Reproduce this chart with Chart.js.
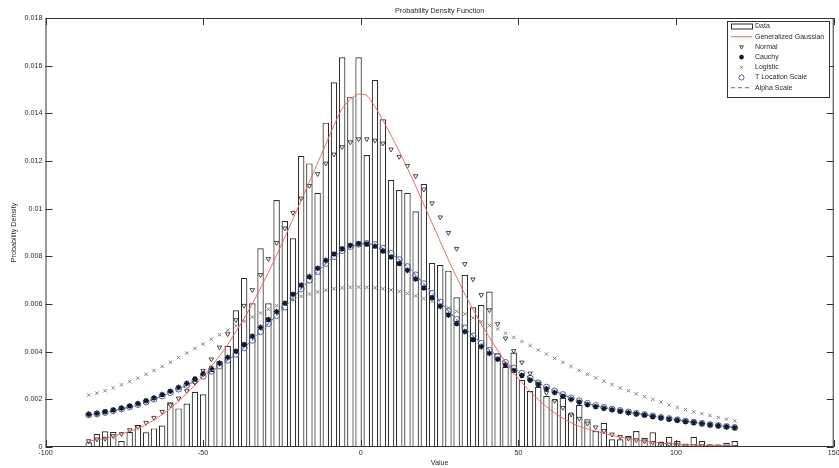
<!DOCTYPE html>
<html>
<head>
<meta charset="utf-8">
<title>Probability Density Function</title>
<script src="https://cdn.jsdelivr.net/npm/chart.js"></script>
<style>
  html, body { margin: 0; padding: 0; background: #fff; overflow: hidden; }
  #wrap { position: relative; width: 839px; height: 468px; }
</style>
</head>
<body>
<div id="wrap"><canvas id="pdfChart"></canvas></div>
<script>
// bin centres of the histogram (Value axis)
const binCenters = [
  -86.3, -83.7, -81.1, -78.5, -75.9, -73.3, -70.7, -68.1, -65.6, -63.0,
  -60.4, -57.8, -55.2, -52.6, -50.0, -47.4, -44.8, -42.2, -39.6, -37.0,
  -34.4, -31.8, -29.3, -26.7, -24.1, -21.5, -18.9, -16.3, -13.7, -11.1,
  -8.5, -5.9, -3.3, -0.7, 1.9, 4.5, 7.0, 9.6, 12.2, 14.8,
  17.4, 20.0, 22.6, 25.2, 27.8, 30.4, 33.0, 35.6, 38.2, 40.8,
  43.4, 45.9, 48.5, 51.1, 53.7, 56.3, 58.9, 61.5, 64.1, 66.7,
  69.3, 71.9, 74.5, 77.1, 79.7, 82.3, 84.9, 87.4, 90.0, 92.6,
  95.2, 97.8, 100.4, 103.0, 105.6, 108.2, 110.8, 113.4, 116.0, 118.6
];

// histogram (Data)
const dataDensity = [
  0.0002, 0.00055, 0.00066, 0.00063, 0.00025, 0.00063, 0.00092, 0.00062, 0.00078, 0.0009,
  0.00188, 0.00162, 0.00182, 0.00232, 0.00221, 0.0032, 0.0036, 0.00425, 0.00574, 0.0071,
  0.00603, 0.00834, 0.00603, 0.01036, 0.00948, 0.00876, 0.01221, 0.0119, 0.01067, 0.01361,
  0.0153, 0.01635, 0.0147, 0.01635, 0.01225, 0.0154, 0.01375, 0.0112, 0.01078, 0.01067,
  0.00989, 0.01104, 0.00773, 0.00764, 0.0074, 0.00628, 0.00722, 0.00586, 0.00596, 0.00652,
  0.00393, 0.00337, 0.00396, 0.00281, 0.00235, 0.00253, 0.00214, 0.002, 0.00208, 0.00141,
  0.00176, 0.00116, 0.00067, 0.00102, 0.00032, 0.00032, 0.00046, 0.00067, 0.00039, 0.00062,
  0.00022, 0.00043, 0.00025, 0.00011, 0.00043, 0.00025, 0.00011, 0.00011, 0.00018, 0.00025
];

// fitted curves
const genGaussian = [
  0.00025, 0.0003, 0.00036, 0.00045, 0.00055, 0.00066, 0.00078, 0.00094, 0.00113, 0.00136,
  0.00162, 0.00192, 0.00225, 0.0026, 0.00298, 0.00338, 0.00382, 0.0043, 0.00484, 0.0054,
  0.00601, 0.00667, 0.00733, 0.00805, 0.0088, 0.00957, 0.01035, 0.01113, 0.01191, 0.0127,
  0.0135, 0.0142, 0.0146, 0.01481, 0.01475, 0.01428, 0.01371, 0.01308, 0.0124, 0.0117,
  0.01095, 0.01018, 0.0094, 0.00862, 0.00785, 0.00712, 0.00642, 0.00577, 0.00516, 0.0046,
  0.00406, 0.00356, 0.00311, 0.0027, 0.00232, 0.00199, 0.00169, 0.00143, 0.00121, 0.00102,
  0.00087, 0.00076, 0.00066, 0.00057, 0.00049, 0.00042, 0.00035, 0.00029, 0.00024, 0.0002,
  0.00016, 0.00014, 0.00012, 0.0001, 0.00009, 0.00008, 0.00007, 0.00006, 0.00005, 0.00005
];

const normalFit = [
  0.00025, 0.00032, 0.00035, 0.00046, 0.00055, 0.00071, 0.00085, 0.00102, 0.00123, 0.00148,
  0.00176, 0.00204, 0.00235, 0.0027, 0.0032, 0.00368, 0.00418, 0.00474, 0.00533, 0.00593,
  0.00659, 0.00722, 0.00789, 0.00857, 0.00918, 0.00983, 0.01043, 0.01096, 0.01146, 0.0119,
  0.01228, 0.01259, 0.01279, 0.01292, 0.01292, 0.01286, 0.01274, 0.01249, 0.01218, 0.0118,
  0.01137, 0.01081, 0.01023, 0.00964, 0.00899, 0.00832, 0.00768, 0.00704, 0.00638, 0.00575,
  0.00516, 0.00456, 0.00403, 0.00355, 0.00309, 0.00267, 0.00228, 0.00194, 0.00165, 0.00137,
  0.00119, 0.00099, 0.00083, 0.00068, 0.00053, 0.00043, 0.00036, 0.00029, 0.00024, 0.00018,
  0.00014, 0.00011, 0.00008, 0.00006, 0.00005, 0.00004, 0.00003, 0.00002, 0.00002, 0.00001
];

const cauchyFit = [
  0.00137, 0.00141, 0.00148, 0.00155, 0.00163, 0.00172, 0.00182, 0.00194, 0.00206, 0.0022,
  0.00234, 0.0025, 0.00267, 0.00286, 0.00308, 0.0033, 0.00352, 0.00376, 0.00402, 0.0043,
  0.00465, 0.00502, 0.00535, 0.00568, 0.00603, 0.00641, 0.00679, 0.00715, 0.0075, 0.00783,
  0.0081, 0.00832, 0.00846, 0.00853, 0.00852, 0.00842, 0.00822, 0.00797, 0.0077, 0.00741,
  0.00705, 0.00667, 0.00626, 0.0059, 0.00554, 0.00518, 0.00484, 0.00451, 0.00421, 0.00393,
  0.00368, 0.00344, 0.00321, 0.003, 0.0028, 0.00261, 0.00244, 0.00228, 0.00213, 0.002,
  0.00188, 0.00178, 0.00169, 0.00162, 0.00156, 0.0015, 0.00144, 0.00139, 0.00134, 0.00128,
  0.00122, 0.00117, 0.00112, 0.00107, 0.00103, 0.00098, 0.00093, 0.00089, 0.00085, 0.00081
];

const logisticFit = [
  0.00218, 0.00226, 0.00236, 0.00248, 0.00261, 0.00274, 0.00289, 0.00305, 0.00321, 0.00338,
  0.00356, 0.00375, 0.00394, 0.00413, 0.00432, 0.00452, 0.00471, 0.0049, 0.00509, 0.00527,
  0.00545, 0.00562, 0.00578, 0.00593, 0.00607, 0.0062, 0.00632, 0.00642, 0.00651, 0.00658,
  0.00664, 0.00668, 0.0067, 0.00671, 0.0067, 0.00668, 0.00664, 0.00659, 0.00652, 0.00644,
  0.00634, 0.00623, 0.00611, 0.00598, 0.00584, 0.00569, 0.00558, 0.00542, 0.00526, 0.0051,
  0.00495, 0.00477, 0.0046, 0.00443, 0.00425, 0.00407, 0.0039, 0.00372, 0.00355, 0.00338,
  0.00321, 0.00305, 0.0029, 0.00276, 0.00262, 0.00248, 0.00236, 0.00223, 0.00211, 0.002,
  0.00189, 0.00176, 0.00166, 0.00157, 0.00148, 0.0014, 0.00132, 0.00124, 0.00117, 0.0011
];

const tLocationFit = [
  0.00135, 0.00139, 0.00145, 0.00152, 0.0016, 0.00168, 0.00178, 0.00189, 0.00201, 0.00214,
  0.00228, 0.00243, 0.00259, 0.00277, 0.00297, 0.00318, 0.0034, 0.00364, 0.00389, 0.00416,
  0.00448, 0.00484, 0.00518, 0.00552, 0.00587, 0.00625, 0.00663, 0.007, 0.00736, 0.0077,
  0.00799, 0.00824, 0.00841, 0.00851, 0.00854, 0.00849, 0.00834, 0.00812, 0.00786, 0.00757,
  0.00722, 0.00685, 0.00645, 0.00608, 0.00571, 0.00535, 0.005, 0.00466, 0.00435, 0.00406,
  0.0038, 0.00355, 0.00331, 0.00309, 0.00289, 0.00269, 0.00251, 0.00235, 0.0022, 0.00206,
  0.00194, 0.00183, 0.00174, 0.00166, 0.00159, 0.00153, 0.00147, 0.00141, 0.00136, 0.0013,
  0.00124, 0.00119, 0.00114, 0.00109, 0.00104, 0.00099, 0.00094, 0.0009, 0.00086, 0.00082
];

const alphaFit = [
  0.00135, 0.00139, 0.00145, 0.00152, 0.0016, 0.00168, 0.00178, 0.00189, 0.00201, 0.00214,
  0.00228, 0.00243, 0.00259, 0.00277, 0.00297, 0.00318, 0.0034, 0.00364, 0.00389, 0.00417,
  0.00449, 0.00484, 0.00518, 0.00552, 0.00588, 0.00626, 0.00664, 0.00701, 0.00737, 0.0077,
  0.00799, 0.00823, 0.0084, 0.0085, 0.00853, 0.00848, 0.00834, 0.00812, 0.00786, 0.00757,
  0.00722, 0.00685, 0.00646, 0.00608, 0.00571, 0.00535, 0.005, 0.00467, 0.00436, 0.00407,
  0.0038, 0.00355, 0.00331, 0.00309, 0.00289, 0.00269, 0.00251, 0.00235, 0.0022, 0.00206,
  0.00194, 0.00183, 0.00174, 0.00166, 0.00159, 0.00153, 0.00147, 0.00141, 0.00136, 0.0013,
  0.00124, 0.00119, 0.00114, 0.00109, 0.00104, 0.00099, 0.00094, 0.0009, 0.00086, 0.00082
];

const xTicks = [-100, -50, 0, 50, 100, 150];
const yTicks = [0, 0.002, 0.004, 0.006, 0.008, 0.01, 0.012, 0.014, 0.016, 0.018];
const chartTitle = 'Probability Density Function';

const axisColor = '#333';
const textColor = '#2a2a2a';
const fontFamily = "'Liberation Sans', Arial, sans-serif";

Chart.defaults.font.family = fontFamily;
Chart.defaults.font.size = 7.2;
Chart.defaults.color = textColor;

function pts(ys) {
  return binCenters.map((x, i) => ({ x: x, y: ys[i] }));
}

// matlab style box with inward ticks, title over the axes, legend box top right
const axesBox = {
  id: 'axesBox',
  afterDraw(chart) {
    const ctx = chart.ctx;
    const a = chart.chartArea;
    const xs = chart.scales.x, ys = chart.scales.y;
    const tl = 7;
    ctx.save();
    ctx.strokeStyle = axisColor;
    ctx.lineWidth = 1;
    ctx.strokeRect(a.left + 0.5, a.top + 0.5, a.right - a.left - 1, a.bottom - a.top - 1);
    ctx.beginPath();
    xTicks.forEach(v => {
      const px = Math.round(xs.getPixelForValue(v)) + 0.5;
      ctx.moveTo(px, a.bottom); ctx.lineTo(px, a.bottom - tl);
      ctx.moveTo(px, a.top); ctx.lineTo(px, a.top + tl);
    });
    yTicks.forEach(v => {
      const py = Math.round(ys.getPixelForValue(v)) + 0.5;
      ctx.moveTo(a.left, py); ctx.lineTo(a.left + tl, py);
      ctx.moveTo(a.right, py); ctx.lineTo(a.right - tl, py);
    });
    ctx.stroke();

    // title, centred over the axes
    ctx.font = '7.2px ' + fontFamily;
    ctx.fillStyle = textColor;
    ctx.textAlign = 'center';
    ctx.textBaseline = 'middle';
    ctx.fillText(chartTitle, (a.left + a.right) / 2, 11);

    // legend
    const bx = 727, by = 21, bw = 102, bh = 76;
    ctx.fillStyle = '#fff';
    ctx.fillRect(bx, by, bw, bh);
    ctx.strokeRect(bx + 0.5, by + 0.5, bw, bh);
    ctx.font = '7px ' + fontFamily;
    ctx.textAlign = 'left';
    chart.data.datasets.forEach((ds, i) => {
      const y = 26.5 + 10.2 * i;
      const sx = 731, sw = 21, cx = sx + sw / 2;
      ctx.save();
      if (ds.legendKind === 'box') {
        ctx.strokeStyle = ds.borderColor;
        ctx.lineWidth = 1;
        ctx.fillStyle = '#fff';
        ctx.fillRect(sx, y - 3, sw, 5);
        ctx.strokeRect(sx + 0.5, y - 2.5, sw, 5);
      } else if (ds.legendKind === 'line') {
        ctx.strokeStyle = ds.borderColor;
        ctx.lineWidth = ds.borderWidth;
        ctx.setLineDash(ds.borderDash || []);
        ctx.beginPath();
        ctx.moveTo(sx, y); ctx.lineTo(sx + sw, y);
        ctx.stroke();
      } else {
        ctx.strokeStyle = ds.pointBorderColor;
        ctx.fillStyle = ds.pointBackgroundColor;
        ctx.lineWidth = ds.pointBorderWidth;
        Chart.helpers.drawPoint(ctx, {
          pointStyle: ds.pointStyle,
          radius: ds.pointRadius * 0.85,
          rotation: ds.pointRotation || 0,
          borderWidth: ds.pointBorderWidth
        }, cx, y);
      }
      ctx.restore();
      ctx.fillStyle = textColor;
      ctx.fillText(ds.label, 755, y);
    });
    ctx.restore();
  }
};

const ctx = document.getElementById('pdfChart').getContext('2d');
const chartInstance = new Chart(ctx, {
  type: 'bar',
  data: {
    datasets: [
      {
        label: 'Data',
        legendKind: 'box',
        data: pts(dataDensity),
        backgroundColor: '#ffffff',
        borderColor: '#2e2e2e',
        borderWidth: 1.2,
        barPercentage: 0.82,
        categoryPercentage: 1,
        order: 10
      },
      {
        type: 'line',
        label: 'Generalized Gaussian',
        legendKind: 'line',
        data: pts(genGaussian),
        borderColor: '#e36868',
        borderWidth: 1,
        pointRadius: 0,
        tension: 0.2,
        order: 1
      },
      {
        type: 'line',
        label: 'Normal',
        data: pts(normalFit),
        showLine: false,
        pointStyle: 'triangle',
        pointRotation: 180,
        pointRadius: 2.6,
        pointBorderWidth: 0.8,
        pointBorderColor: '#1e1e1e',
        pointBackgroundColor: 'rgba(0,0,0,0)',
        order: 2
      },
      {
        type: 'line',
        label: 'Cauchy',
        data: pts(cauchyFit),
        showLine: false,
        pointStyle: 'star',
        pointRadius: 2.8,
        pointBorderWidth: 1.3,
        pointBorderColor: '#14172a',
        pointBackgroundColor: '#14172a',
        order: 3
      },
      {
        type: 'line',
        label: 'Logistic',
        data: pts(logisticFit),
        showLine: false,
        pointStyle: 'crossRot',
        pointRadius: 2.4,
        pointBorderWidth: 0.9,
        pointBorderColor: '#777777',
        pointBackgroundColor: '#777777',
        order: 4
      },
      {
        type: 'line',
        label: 'T Location Scale',
        data: pts(tLocationFit),
        showLine: false,
        pointStyle: 'circle',
        pointRadius: 3,
        pointBorderWidth: 0.9,
        pointBorderColor: '#46587c',
        pointBackgroundColor: 'rgba(0,0,0,0)',
        order: 5
      },
      {
        type: 'line',
        label: 'Alpha Scale',
        legendKind: 'line',
        data: pts(alphaFit),
        borderColor: '#6a8bd0',
        borderWidth: 1.3,
        borderDash: [4, 3],
        pointRadius: 0,
        order: 6
      }
    ]
  },
  options: {
    responsive: true,
    maintainAspectRatio: false,
    animation: false,
    events: [],
    layout: { padding: { left: 0, right: 2, top: 18, bottom: 0 } },
    plugins: {
      legend: { display: false },
      tooltip: { enabled: false },
      title: { display: false }
    },
    scales: {
      x: {
        type: 'linear',
        min: -100,
        max: 150,
        offset: false,
        grid: { display: false, drawTicks: false },
        border: { display: false },
        afterBuildTicks: s => { s.ticks = xTicks.map(v => ({ value: v })); },
        afterFit: s => { s.height = 21; s.paddingLeft = 0; s.paddingRight = 0; },
        ticks: { padding: 2, maxRotation: 0, color: textColor },
        title: { display: true, text: 'Value', color: textColor, padding: { top: 0, bottom: 0.8 } }
      },
      y: {
        min: 0,
        max: 0.018,
        grid: { display: false, drawTicks: false },
        border: { display: false },
        afterBuildTicks: s => { s.ticks = yTicks.map(v => ({ value: v })); },
        afterFit: s => { s.width = 45.5; s.paddingTop = 0; s.paddingBottom = 0; },
        ticks: {
          padding: 3,
          color: textColor,
          callback: v => String(+v.toFixed(3))
        },
        title: { display: true, text: 'Probability Density', color: textColor, padding: { top: 10, bottom: 0 } }
      }
    }
  },
  plugins: [axesBox]
});
</script>
</body>
</html>
